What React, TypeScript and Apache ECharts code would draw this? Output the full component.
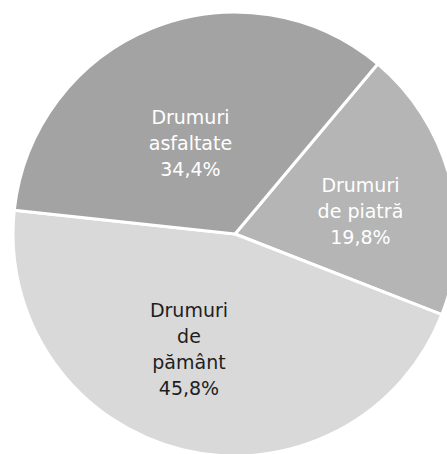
import React, { useEffect, useRef } from "react";
import * as echarts from "echarts";

const categories = ["Drumuri\nde piatră", "Drumuri\nde\npământ", "Drumuri\nasfaltate"];
const values = [19.8, 45.8, 34.4];
const colors = ["#b5b5b5", "#d9d9d9", "#a3a3a3"];
const textColors = ["#ffffff", "#1e1e1e", "#ffffff"];
const labelOffsets: [number, number][] = [[15, 5], [-19, 4], [-2, 15]];

export default function App() {
  const ref = useRef<HTMLDivElement>(null);
  useEffect(() => {
    if (!ref.current) return;
    const chart = echarts.init(ref.current, undefined, { renderer: "svg" });
    chart.setOption({
      animation: false,
      backgroundColor: "#ffffff",
      series: [
        {
          type: "pie",
          center: [235, 234],
          radius: [0, 222],
          startAngle: 50,
          clockwise: true,
          avoidLabelOverlap: false,
          itemStyle: { borderColor: "#ffffff", borderWidth: 3 },
          label: {
            show: true,
            position: "inside",
            fontFamily: "DejaVu Sans",
            fontSize: 19,
            lineHeight: 26,
            align: "center",
            formatter: (p: any) =>
              p.name + "\n" + String(p.value).replace(".", ",") + "%",
          },
          labelLine: { show: false },
          emphasis: { disabled: true },
          data: categories.map((name, i) => ({
            name,
            value: values[i],
            itemStyle: { color: colors[i] },
            label: { color: textColors[i], offset: labelOffsets[i] },
          })),
        },
      ],
    });
    return () => chart.dispose();
  }, []);
  return (
    <div
      ref={ref}
      style={{ position: "fixed", left: 0, top: 0, width: 447, height: 454 }}
    />
  );
}
